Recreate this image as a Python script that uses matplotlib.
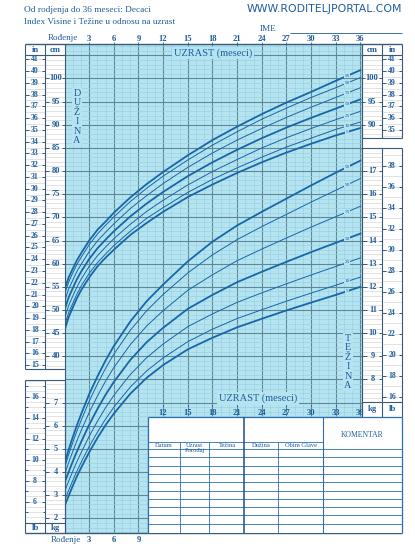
import numpy as np
import matplotlib
matplotlib.use("Agg")
import matplotlib.pyplot as plt
from matplotlib.transforms import blended_transform_factory

W, H = 415, 549

# ages in months
ages = [0, 0.5, 1, 1.5, 2, 3, 4, 5, 6, 8, 10, 12, 15, 18, 21, 24, 27, 30, 33, 36]
percentiles = ["5", "10", "25", "50", "75", "90", "95"]

# length for age (cm)
len_p5 = [45.6, 48.4, 50.5, 52.5, 54.2, 57.0, 59.4, 61.3, 63.0, 66.2, 68.8, 71.2, 74.4, 77.1, 79.6, 81.9, 84.0, 85.9, 87.7, 89.3]
len_p10 = [46.6, 49.4, 51.4, 53.4, 55.1, 57.9, 60.2, 62.1, 63.9, 67.0, 69.8, 72.1, 75.4, 78.2, 80.7, 83.0, 85.2, 87.1, 89.0, 90.6]
len_p25 = [48.2, 50.9, 53.0, 54.9, 56.6, 59.4, 61.7, 63.6, 65.4, 68.5, 71.3, 73.7, 77.0, 79.9, 82.5, 85.0, 87.2, 89.2, 91.1, 92.9]
len_p50 = [50.0, 52.7, 54.7, 56.6, 58.2, 61.0, 63.3, 65.2, 67.0, 70.2, 73.0, 75.5, 78.9, 81.9, 84.6, 87.1, 89.4, 91.5, 93.5, 95.5]
len_p75 = [51.8, 54.5, 56.4, 58.3, 59.8, 62.6, 64.9, 66.8, 68.6, 71.9, 74.7, 77.3, 80.8, 83.9, 86.7, 89.2, 91.6, 93.8, 95.9, 98.0]
len_p90 = [53.4, 56.0, 58.0, 59.8, 61.3, 64.1, 66.4, 68.3, 70.1, 73.4, 76.3, 78.9, 82.4, 85.6, 88.5, 91.2, 93.6, 95.9, 98.0, 100.2]
len_p95 = [54.4, 57.0, 58.9, 60.7, 62.2, 65.0, 67.3, 69.1, 71.0, 74.3, 77.2, 79.8, 83.4, 86.7, 89.6, 92.3, 94.8, 97.1, 99.5, 101.8]

# weight for age (kg)
wt_p5 = [2.53, 2.96, 3.40, 3.80, 4.17, 4.85, 5.47, 6.03, 6.52, 7.38, 8.07, 8.62, 9.30, 9.80, 10.25, 10.62, 10.98, 11.32, 11.65, 12.00]
wt_p10 = [2.77, 3.20, 3.63, 4.03, 4.40, 5.10, 5.72, 6.29, 6.80, 7.67, 8.37, 8.93, 9.63, 10.17, 10.63, 11.01, 11.38, 11.73, 12.07, 12.42]
wt_p25 = [3.15, 3.60, 4.03, 4.44, 4.82, 5.54, 6.19, 6.78, 7.31, 8.21, 8.94, 9.53, 10.28, 10.83, 11.33, 11.74, 12.13, 12.51, 12.88, 13.25]
wt_p50 = [3.53, 4.00, 4.45, 4.88, 5.28, 6.04, 6.72, 7.34, 7.89, 8.84, 9.61, 10.23, 11.05, 11.65, 12.20, 12.65, 13.08, 13.50, 13.90, 14.30]
wt_p75 = [3.88, 4.40, 4.89, 5.34, 5.77, 6.57, 7.28, 7.93, 8.51, 9.50, 10.31, 10.97, 11.85, 12.52, 13.13, 13.63, 14.11, 14.58, 15.03, 15.48]
wt_p90 = [4.17, 4.75, 5.27, 5.76, 6.21, 7.06, 7.80, 8.48, 9.09, 10.12, 10.97, 11.67, 12.60, 13.38, 14.04, 14.60, 15.13, 15.66, 16.17, 16.68]
wt_p95 = [4.34, 4.96, 5.50, 6.01, 6.48, 7.36, 8.12, 8.82, 9.44, 10.50, 11.38, 12.10, 13.10, 13.95, 14.65, 15.24, 15.81, 16.38, 16.93, 17.45]

top_age_labels = ["3", "6", "9", "12", "15", "18", "21", "24", "27", "30", "33", "36"]
table_cols = ["Datum", "Uzrast\nPorođaj", "Težina", "Dužina", "Obim Glave"]

length_curves = dict(zip(percentiles, [len_p5, len_p10, len_p25, len_p50, len_p75, len_p90, len_p95]))
weight_curves = dict(zip(percentiles, [wt_p5, wt_p10, wt_p25, wt_p50, wt_p75, wt_p90, wt_p95]))
thick = ["5", "50", "95"]

CYAN = "#b5e4f0"
MINOR = "#97d0e2"
MAJOR = "#5d8898"
CURVE = "#1766a8"
TXT = "#1f5d9c"
FRAME = "#3b5a78"
RULE = "#cccccc"
SERIF = "Liberation Serif"

fig = plt.figure(figsize=(W / 100, H / 100), dpi=100)

# main chart, x = months, y = cm (weight on twin, 1 kg = 5 cm)
CM_LO, CM_HI = 1.83, 107.45
ax = fig.add_axes([64.5 / W, (H - 533) / H, (361.7 - 64.5) / W, (533 - 44) / H])
ax.set_facecolor(CYAN)
ax.set_xlim(0, 36.16)
ax.set_ylim(CM_LO, CM_HI)
ax.set_xticks(np.arange(0, 37, 3))
ax.set_xticks(np.arange(0, 37, 1), minor=True)
ax.set_yticks(np.arange(5, 106, 5))
ax.set_yticks(np.arange(2, 108, 1), minor=True)
ax.grid(which="minor", color=MINOR, lw=0.45)
ax.grid(which="major", color=MAJOR, lw=0.8)
ax.tick_params(which="both", length=0, labelleft=False, labelbottom=False)
for s in ax.spines.values():
    s.set_visible(False)

axw = ax.twinx()
axw.set_ylim((CM_LO + 5) / 5, (CM_HI + 5) / 5)
axw.axis("off")
ax.set_zorder(1)
axw.set_zorder(2)

lab_age = 34.4
for p, vals in length_curves.items():
    ax.plot(ages, vals, color=CURVE, lw=1.3 if p in thick else 0.7, zorder=3)
    ax.text(lab_age, np.interp(lab_age, ages, vals), p, fontsize=3.8, color=TXT, family=SERIF,
            ha="center", va="center", zorder=4,
            bbox=dict(boxstyle="square,pad=0.12", fc=CYAN, ec="none"))
for p, vals in weight_curves.items():
    axw.plot(ages, vals, color=CURVE, lw=1.3 if p in thick else 0.7, zorder=3)
    axw.text(lab_age, np.interp(lab_age, ages, vals), p, fontsize=3.8, color=TXT, family=SERIF,
             ha="center", va="center", zorder=4,
             bbox=dict(boxstyle="square,pad=0.12", fc=CYAN, ec="none"))

# layout layer in pixels
lay = fig.add_axes([0, 0, 1, 1])
lay.set_xlim(0, W)
lay.set_ylim(H, 0)
lay.axis("off")
lay.set_zorder(5)

t_age = blended_transform_factory(ax.transData, lay.transData)
t_cm = blended_transform_factory(lay.transData, ax.transData)
t_kg = blended_transform_factory(lay.transData, axw.transData)


def seg(x, y, c=FRAME, lw=0.8, tr=None, z=6):
    lay.plot(x, y, color=c, lw=lw, transform=tr or lay.transData, zorder=z, solid_capstyle="butt")


def txt(x, y, s, size=6, bold=False, tr=None, **kw):
    lay.text(x, y, s, fontsize=size, color=TXT, family=SERIF, fontweight="bold" if bold else "normal",
             ha=kw.pop("ha", "center"), va=kw.pop("va", "center"), transform=tr or lay.transData, zorder=8, **kw)


# header
txt(24, 9.5, "Od rodjenja do 36 meseci: Decaci", 6.7, ha="left")
txt(24, 22, "Index Visine i Težine u odnosu na uzrast", 6.7, ha="left")
lay.text(402, 9.5, "WWW.RODITELJPORTAL.COM", fontsize=7.8, color=TXT, family="DejaVu Sans",
         ha="right", va="center", zorder=8)
txt(268, 29, "IME", 6.7)
seg([290, 402], [32.5, 32.5], c=TXT, lw=0.6)

# age labels
txt(62.5, 38.5, "Rođenje", 6.5)
for lb in top_age_labels:
    txt(float(lb), 39, lb, 6.2, bold=True, tr=t_age)
    seg([float(lb)] * 2, [41.5, 44], tr=t_age, lw=0.6)
txt(66, 540, "Rođenje", 6.5)
for lb in top_age_labels[:3]:
    txt(float(lb), 540.5, lb, 6.2, bold=True, tr=t_age)
for lb in top_age_labels[3:]:
    txt(float(lb), 413, lb, 6.2, bold=True, tr=t_age)
    seg([float(lb)] * 2, [404.5, 407], tr=t_age, lw=0.6)

box = dict(boxstyle="square,pad=0.15", fc=CYAN, ec="none")
txt(213, 53, "UZRAST (meseci)", 7.5, bbox=box)
txt(258, 398.5, "UZRAST (meseci)", 7.5, bbox=box)
txt(77, 117, "\n".join("DUŽINA"), 7.3, linespacing=1.05, bbox=box)
txt(348, 362, "\n".join("TEŽINA"), 7.3, linespacing=1.05, bbox=box)

# left length panel (in | cm)
for v in np.arange(15, 41.3, 0.5):
    seg([25.5, 44.5], [v * 2.54] * 2, c=RULE, lw=0.4, tr=t_cm, z=5)
for v in np.arange(38, 106, 1):
    seg([45.5, 64.5], [v] * 2, c=RULE, lw=0.4, tr=t_cm, z=5)
for v in range(15, 42):
    seg([25, 28.5], [v * 2.54] * 2, tr=t_cm, lw=0.7)
    seg([41.5, 45], [v * 2.54] * 2, tr=t_cm, lw=0.7)
    txt(35, v * 2.54, str(v), 5.6, bold=True, tr=t_cm)
for v in range(40, 101, 5):
    seg([45, 49], [v] * 2, tr=t_cm, lw=0.7)
    seg([62, 65], [v] * 2, tr=t_cm, lw=0.7)
    txt(56, v, str(v), 6, bold=True, tr=t_cm)
txt(35, 50, "in", 6.2, bold=True)
txt(55, 50, "cm", 6.2, bold=True)
for x in (25, 45, 65):
    seg([x, x], [44, 369])
seg([25, 65], [55, 55])
seg([25, 65], [369, 369])

# left weight panel (lb | kg)
for v in np.arange(4.5, 17.6, 0.5):
    seg([25.5, 44.5], [v * 0.4536] * 2, c=RULE, lw=0.4, tr=t_kg, z=5)
for v in np.arange(1.8, 8.0, 0.2):
    seg([45.5, 64.5], [v] * 2, c=RULE, lw=0.4, tr=t_kg, z=5)
for v in range(5, 18):
    seg([25, 27.5 if v % 2 else 28.5], [v * 0.4536] * 2, tr=t_kg, lw=0.7)
    seg([42.5 if v % 2 else 41.5, 45], [v * 0.4536] * 2, tr=t_kg, lw=0.7)
    if v % 2 == 0 and 6 <= v <= 16:
        txt(35, v * 0.4536, str(v), 5.6, bold=True, tr=t_kg)
for v in range(2, 8):
    seg([45, 49], [v] * 2, tr=t_kg, lw=0.7)
    seg([62, 65], [v] * 2, tr=t_kg, lw=0.7)
    txt(56, v, str(v), 6, bold=True, tr=t_kg)
for x in (25, 45, 65):
    seg([x, x], [380, 533])
seg([25, 65], [380, 380])
seg([25, 65], [523, 523])
txt(35, 528.5, "lb", 6.2, bold=True)
txt(55, 528.5, "kg", 6.2, bold=True)

# right length panel (cm | in)
for v in np.arange(88, 106, 1):
    seg([362.5, 381.5], [v] * 2, c=RULE, lw=0.4, tr=t_cm, z=5)
for v in np.arange(34.5, 41.3, 0.5):
    seg([382.5, 401.5], [v * 2.54] * 2, c=RULE, lw=0.4, tr=t_cm, z=5)
for v in (90, 95, 100):
    seg([362, 365], [v] * 2, tr=t_cm, lw=0.7)
    seg([378.5, 382], [v] * 2, tr=t_cm, lw=0.7)
    txt(371.5, v, str(v), 6, bold=True, tr=t_cm)
for v in range(35, 42):
    seg([382, 385.5], [v * 2.54] * 2, tr=t_cm, lw=0.7)
    seg([398.5, 402], [v * 2.54] * 2, tr=t_cm, lw=0.7)
    txt(392, v * 2.54, str(v), 5.6, bold=True, tr=t_cm)
for x in (362, 382, 402):
    seg([x, x], [44, 138])
seg([362, 402], [55, 55])
seg([362, 402], [138, 138])
txt(372, 50, "cm", 6.2, bold=True)
txt(392, 50, "in", 6.2, bold=True)

# right weight panel (kg | lb)
for v in np.arange(7.2, 18.1, 0.2):
    seg([362.5, 381.5], [v] * 2, c=RULE, lw=0.4, tr=t_kg, z=5)
for v in np.arange(16, 39.6, 1):
    seg([382.5, 401.5], [v * 0.4536] * 2, c=RULE, lw=0.4, tr=t_kg, z=5)
for v in range(8, 18):
    seg([362, 367], [v] * 2, tr=t_kg, lw=0.7)
    seg([379, 382], [v] * 2, tr=t_kg, lw=0.7)
    txt(373, v, str(v), 6, bold=True, tr=t_kg)
for v in range(16, 40, 2):
    seg([382, 385.5], [v * 0.4536] * 2, tr=t_kg, lw=0.7)
    seg([398.5, 402], [v * 0.4536] * 2, tr=t_kg, lw=0.7)
    txt(392, v * 0.4536, str(v), 5.6, bold=True, tr=t_kg)
for x in (362, 382, 402):
    seg([x, x], [148, 417])
seg([362, 402], [148, 148])
seg([362, 402], [402, 402])
txt(372, 409, "kg", 6.2, bold=True)
txt(392, 409, "lb", 6.2, bold=True)

# outer frame
seg([25, 402], [44, 44], lw=1.0)
seg([25, 402], [533, 533], lw=1.0)
seg([65, 65], [369, 533])
seg([362, 362], [44, 417])

# table
lay.add_patch(plt.Rectangle((148, 417), 254, 116, fc="white", ec="none", zorder=6))
TB = "#2d6fae"
seg([148, 402], [417, 417], c=TB, lw=0.9, z=7)
seg([148, 148], [417, 533], c=TB, lw=0.9, z=7)
seg([402, 402], [417, 533], c=TB, lw=0.9, z=7)
seg([148, 323], [442, 442], c=TB, lw=0.6, z=7)
for k in range(10):
    y = 449 + 8.3 * k
    seg([148, 402], [y, y], c=TB, lw=0.6, z=7)
for x in (180, 209, 278):
    seg([x, x], [442, 533], c=TB, lw=0.6, z=7)
seg([244, 244], [417, 533], c="#1d4f86", lw=1.1, z=7)
seg([323, 323], [417, 533], c=TB, lw=0.8, z=7)
col_x = [164, 194.5, 227, 261, 300.5]
for cx, name in zip(col_x, table_cols):
    txt(cx, 445.5 if "\n" not in name else 448, name, 4.7, linespacing=0.85)
txt(362.5, 435, "KOMENTAR", 5.5)

fig.savefig("out.png", dpi=100, facecolor="white")
